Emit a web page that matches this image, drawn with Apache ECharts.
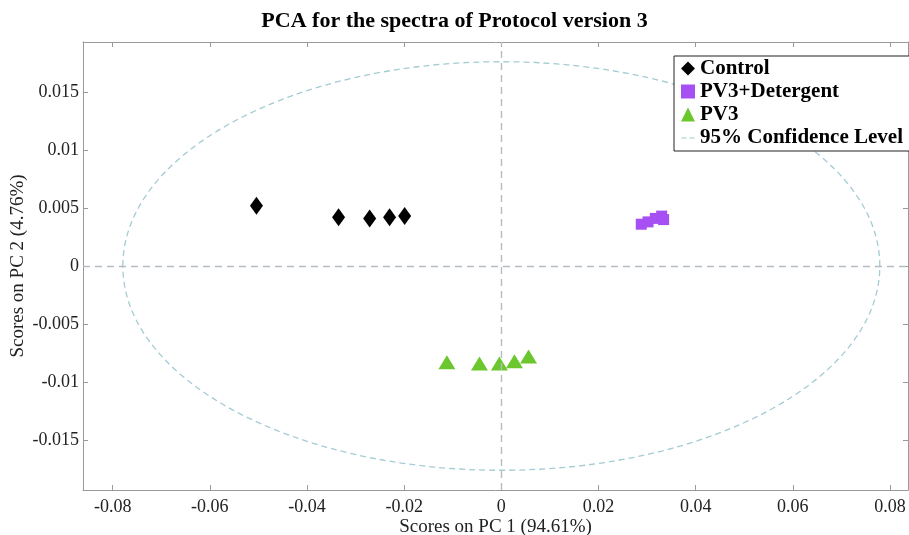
<!DOCTYPE html>
<html>
<head>
<meta charset="utf-8">
<script src="https://cdn.jsdelivr.net/npm/echarts@6/dist/echarts.min.js"></script>
<style>
html, body { margin: 0; padding: 0; background: #fff; }
#main { width: 909px; height: 535px; }
</style>
</head>
<body>
<div id="main"></div>
<script>
// 数据 (PC1, PC2 scores)
var controlPts = [[-0.0504, 0.0052], [-0.0335, 0.0042], [-0.0271, 0.0041], [-0.0230, 0.0042], [-0.0199, 0.0043]]
var detergentPts = [[0.0288, 0.0036], [0.0302, 0.0038], [0.0317, 0.0041], [0.0330, 0.0043], [0.0334, 0.0040]]
var pv3Pts = [[-0.0112, -0.0083], [-0.0045, -0.0084], [-0.0004, -0.0084], [0.0027, -0.0082], [0.0056, -0.0078]]
// 95% confidence ellipse: semi-axes along PC1 / PC2
var ellipseAxes = [[0.0779, 0.0176]]
var seriesNames = ['Control', 'PV3+Detergent', 'PV3', '95% Confidence Level']

var serif = '"Liberation Serif", "Times New Roman", serif'
var axisGray = '#9a9a9a'
var ellipseColor = '#a3ccd3'

function mkAxis(pos, min, max, split, extra) {
    return Object.assign({
        type: 'value',
        position: pos,
        min: min,
        max: max,
        splitNumber: split,
        axisLine: { show: true, onZero: false, lineStyle: { color: axisGray, width: 1 } },
        axisTick: { show: true, inside: true, length: 5, lineStyle: { color: axisGray } },
        splitLine: { show: false }
    }, extra)
}

function tickLabel(margin) {
    return {
        fontFamily: serif,
        fontSize: 18,
        color: '#222',
        margin: margin,
        showMinLabel: false,
        showMaxLabel: false
    }
}

var option = {
    animation: false,
    backgroundColor: '#fff',
    title: {
        text: 'PCA for the spectra of Protocol version 3',
        left: 'center',
        top: 5,
        textStyle: { fontFamily: serif, fontSize: 22, fontWeight: 'bold', color: '#000' }
    },
    legend: {
        orient: 'vertical',
        left: 674,
        top: 56,
        padding: [2, 12, 3, 7],
        itemGap: 2,
        itemWidth: 14,
        itemHeight: 14,
        borderColor: '#222',
        borderWidth: 1,
        backgroundColor: '#fff',
        textStyle: { fontFamily: serif, fontSize: 21, fontWeight: 'bold', color: '#000' },
        data: [
            { name: seriesNames[0], icon: 'diamond' },
            { name: seriesNames[1], icon: 'rect' },
            { name: seriesNames[2], icon: 'triangle' },
            { name: seriesNames[3], icon: 'path://M0,0 L0,0 M0,14 L0,14 M0,7h5v1h-5z M8,7h5v1h-5z' }
        ]
    },
    grid: { left: 83, right: 1, top: 42, bottom: 45, outerBoundsMode: 'none', containLabel: false },
    xAxis: [
        mkAxis('bottom', -0.0861, 0.0837, 8, {
            name: 'Scores on PC 1 (94.61%)',
            nameLocation: 'middle',
            nameGap: 28,
            nameMoveOverlap: false,
            nameTextStyle: { fontFamily: serif, fontSize: 19, color: '#222' },
            axisLabel: tickLabel(8)
        }),
        mkAxis('top', -0.0861, 0.0837, 8, { axisLabel: { show: false } })
    ],
    yAxis: [
        mkAxis('left', -0.0193, 0.0193, 7, {
            name: 'Scores on PC 2 (4.76%)',
            nameLocation: 'middle',
            nameGap: 55,
            nameMoveOverlap: false,
            nameTextStyle: { fontFamily: serif, fontSize: 19, color: '#222' },
            axisLabel: tickLabel(4)
        }),
        mkAxis('right', -0.0193, 0.0193, 7, { axisLabel: { show: false } })
    ],
    series: [
        {
            name: seriesNames[3],
            type: 'custom',
            silent: true,
            z: 1,
            itemStyle: { color: ellipseColor },
            data: ellipseAxes,
            renderItem: function (params, api) {
                var c = api.coord([0, 0])
                var e = api.coord([api.value(0), api.value(1)])
                return {
                    type: 'ellipse',
                    shape: { cx: c[0], cy: c[1], rx: e[0] - c[0], ry: c[1] - e[1] },
                    style: { fill: 'none', stroke: ellipseColor, lineWidth: 1.3, lineDash: [6, 4] }
                }
            },
            markLine: {
                silent: true,
                symbol: 'none',
                label: { show: false },
                lineStyle: { color: '#b4bcc4', type: [7, 5], width: 1.4 },
                data: [{ xAxis: 0 }, { yAxis: 0 }]
            }
        },
        {
            name: seriesNames[0],
            type: 'scatter',
            symbol: 'diamond',
            symbolSize: [13, 18],
            itemStyle: { color: '#000', opacity: 1 },
            z: 3,
            data: controlPts
        },
        {
            name: seriesNames[1],
            type: 'scatter',
            symbol: 'rect',
            symbolSize: 11,
            itemStyle: { color: '#a64ff2', opacity: 1 },
            z: 3,
            data: detergentPts
        },
        {
            name: seriesNames[2],
            type: 'scatter',
            symbol: 'triangle',
            symbolSize: [17, 14],
            itemStyle: { color: '#6cc72e', opacity: 1 },
            z: 3,
            data: pv3Pts
        }
    ]
}

var chart = echarts.init(document.getElementById('main'))
chart.setOption(option)
</script>
</body>
</html>
